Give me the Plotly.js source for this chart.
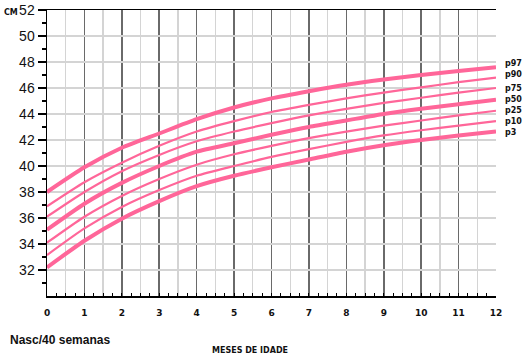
<!DOCTYPE html>
<html>
<head>
<meta charset="utf-8">
<script src="https://cdn.plot.ly/plotly-3.0.1.min.js"></script>
<style>html,body{margin:0;padding:0;background:#fff;}#chart{width:523px;height:357px;}</style>
</head>
<body>
<div id="chart"></div>
<script>
// Months of age
const months = [0,1,2,3,4,5,6,7,8,9,10,11,12];
// Head circumference percentiles (cm)
const p97 = [38.0, 39.9, 41.4, 42.5, 43.6, 44.5, 45.2, 45.75, 46.25, 46.65, 47.0, 47.3, 47.6];
const p90 = [36.9, 38.75, 40.25, 41.55, 42.65, 43.45, 44.15, 44.7, 45.2, 45.65, 46.05, 46.45, 46.8];
const p75 = [36.1, 38.0, 39.6, 40.85, 41.9, 42.65, 43.3, 43.9, 44.4, 44.85, 45.25, 45.65, 46.0];
const p50 = [35.1, 37.1, 38.7, 40.0, 41.1, 41.75, 42.4, 43.0, 43.5, 44.0, 44.4, 44.75, 45.1];
const p25 = [34.1, 36.1, 37.7, 39.0, 40.1, 40.9, 41.55, 42.15, 42.65, 43.1, 43.5, 43.9, 44.25];
const p10 = [33.15, 35.2, 36.85, 38.15, 39.25, 40.0, 40.7, 41.3, 41.85, 42.35, 42.75, 43.1, 43.45];
const p3  = [32.2, 34.25, 35.95, 37.3, 38.45, 39.25, 39.9, 40.5, 41.1, 41.6, 42.0, 42.35, 42.65];

const seriesNames = ["p97","p90","p75","p50","p25","p10","p3"];
const seriesData = [p97, p90, p75, p50, p25, p10, p3];
const labelY = [47.9, 47.05, 45.98, 45.13, 44.3, 43.46, 42.6];
const yTickVals = [32,34,36,38,40,42,44,46,48,50,52];
const yMinorVals = [31,33,35,37,39,41,43,45,47,49,51];
const xTickVals = months;

const pink = '#ff6699';
const thick = {p97:true, p50:true, p3:true};

const traces = seriesNames.map((n,i)=>({
  x: months, y: seriesData[i], type:'scatter', mode:'lines', name:n,
  line:{color:pink, width: thick[n]?4:2.2, shape:'spline', smoothing:0.6},
  hoverinfo:'skip', showlegend:false
}));
traces.push({x:[], y:[], xaxis:'x2', yaxis:'y', type:'scatter', mode:'lines', showlegend:false, hoverinfo:'skip'});

const annotations = seriesNames.map((n,i)=>({
  text:n, xref:'paper', yref:'y', x:1.015, y:labelY[i], xanchor:'left', yanchor:'middle',
  showarrow:false, font:{family:'DejaVu Sans', size:8, color:'#111', weight:'bold'}
}));
annotations.push({text:'<b>CM</b>', xref:'paper', yref:'paper', x:-0.1, y:0.993, xanchor:'left', yanchor:'middle',
  showarrow:false, font:{family:'DejaVu Sans', size:8, color:'#111'}});
annotations.push({text:'<b>Nasc/40 semanas</b>', xref:'paper', yref:'paper', x:-0.087, y:-0.155, xanchor:'left', yanchor:'middle',
  showarrow:false, font:{family:'Liberation Sans, Arial', size:12, color:'#111'}});
annotations.push({text:'<b>MESES DE IDADE</b>', xref:'paper', yref:'paper', x:0.452, y:-0.19, xanchor:'center', yanchor:'middle',
  showarrow:false, font:{family:'DejaVu Sans', size:8, color:'#111'}});

const layout = {
  width:523, height:357,
  margin:{l:47, r:27, t:10, b:61, pad:0},
  paper_bgcolor:'#fff', plot_bgcolor:'#fff',
  showlegend:false, hovermode:false,
  xaxis:{
    range:[0,12], tickmode:'array', tickvals:xTickVals, ticks:'',
    showgrid:true, gridcolor:'#6a6a6a', gridwidth:1.6,
    minor:{dtick:0.5, tick0:0, showgrid:true, gridcolor:'#d4d4d4', gridwidth:1.4, ticks:''},
    showline:true, linecolor:'#000', linewidth:1.5, mirror:true,
    zeroline:false, fixedrange:true,
    tickfont:{family:'DejaVu Sans', size:9, color:'#111', weight:'bold'},
    ticklabelstandoff:8
  },
  xaxis2:{
    range:[0,12], overlaying:'x', anchor:'y', side:'bottom',
    tickmode:'linear', tick0:0, dtick:0.25, ticks:'inside', ticklen:3, tickwidth:1, tickcolor:'#000',
    showticklabels:false, showgrid:false, zeroline:false, showline:false, fixedrange:true
  },
  yaxis:{
    range:[30,52], tickmode:'array', tickvals:yTickVals, ticks:'outside', ticklen:8, tickwidth:1.2, tickcolor:'#000',
    showgrid:true, gridcolor:'#d4d4d4', gridwidth:1.4,
    minor:{tickmode:'array', tickvals:yMinorVals, ticks:'outside', ticklen:4, tickwidth:1.2, tickcolor:'#000', showgrid:false},
    showline:true, linecolor:'#000', linewidth:1.5,
    zeroline:false, fixedrange:true,
    tickfont:{family:'Liberation Sans, Arial', size:14, color:'#111'}
  },
  annotations: annotations
};

Plotly.newPlot('chart', traces, layout, {staticPlot:true, displayModeBar:false});
</script>
</body>
</html>
